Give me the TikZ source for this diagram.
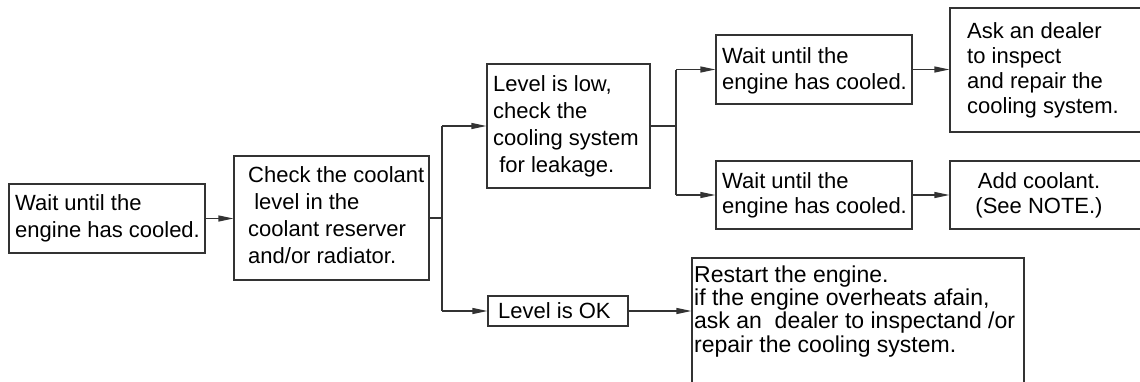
\documentclass[tikz,border=0pt]{standalone}
\usepackage{fontspec}
\setmainfont{Liberation Sans}
\usetikzlibrary{arrows.meta}
\definecolor{linegray}{HTML}{333333}
\tikzset{
  box/.style={draw=linegray, line width=1.2pt, rectangle, inner sep=0pt},
  txt/.style={inner sep=0pt, align=left, anchor=base west, text=black, font=\fontsize{22}{#1}\selectfont},
  txt/.default=26.7,
  wire/.style={draw=linegray, line width=1.2pt},
  conn/.style={wire, -{Triangle[length=15pt,width=6pt]}}
}
\begin{document}
\begin{tikzpicture}[x=1pt,y=-1pt]
\useasboundingbox (0,0) rectangle (1140,381);
\clip (0,0) rectangle (1140,381);
\fill[white] (0,0) rectangle (1140,381);
% boxes
\node[box, minimum width=196pt, minimum height=69pt] (A) at (107,218.5) {};
\node[box, minimum width=195pt, minimum height=124pt] (B) at (331.5,218) {};
\node[box, minimum width=163pt, minimum height=124pt] (C) at (568.5,126) {};
\node[box, minimum width=196pt, minimum height=69pt] (D1) at (814,69.5) {};
\node[box, minimum width=196pt, minimum height=68pt] (D2) at (814,195) {};
\node[box, minimum width=210pt, minimum height=124pt] (E1) at (1055,70) {};
\node[box, minimum width=210pt, minimum height=68pt] (E2) at (1055,195) {};
\node[box, minimum width=140pt, minimum height=30pt] (OK) at (558,311) {};
\node[box, minimum width=332pt, minimum height=142pt] (F) at (858,329) {};
% texts (anchored at the baseline of their last line)
\node[txt=27] (tA) at (15,237) {Wait until the\\engine has cooled.};
\node[txt=26.7] (tB) at (248,263) {Check the coolant\\\ level in the\\coolant reserver\\and/or radiator.};
\node[txt=26.7] (tC) at (493,172) {Level is low,\\check the\\cooling system\\\ for leakage.};
\node[txt=26] (tD1) at (722,89) {Wait until the\\engine has cooled.};
\node[txt=25] (tD2) at (722,213) {Wait until the\\engine has cooled.};
\node[txt=25] (tE1) at (967,113) {Ask an dealer\\to inspect\\and repair the\\cooling system.};
\node[txt=25, align=center, anchor=base] (tE2) at (1039,213) {Add coolant.\\(See NOTE.)};
\node[txt=25] (tOK) at (498,318) {Level is OK};
\node[inner sep=0pt, align=left, anchor=base west, font=\fontsize{23}{23.3}\selectfont] (tF) at (694,352) {Restart the engine.\\if the engine overheats afain,\\ask an\ \ dealer to inspectand /or\\repair the cooling system.};
% connectors
\coordinate (j1) at (442,218);
\coordinate (j2) at (676,126);
\draw[conn] (A.east) -- (A.east -| B.west);
\draw[wire] (B.east) -- (j1);
\draw[wire] (C.west -| j1) -- (OK.west -| j1);
\draw[conn] (C.west -| j1) -- (C.west);
\draw[conn] (OK.west -| j1) -- (OK.west);
\draw[wire] (C.east) -- (j2);
\draw[wire] (D1.west -| j2) -- (D2.west -| j2);
\draw[conn] (D1.west -| j2) -- (D1.west);
\draw[conn] (D2.west -| j2) -- (D2.west);
\draw[conn] (D1.east) -- (D1.east -| E1.west);
\draw[conn] (D2.east) -- (D2.east -| E2.west);
\draw[conn] (OK.east) -- (OK.east -| F.west);
\end{tikzpicture}
\end{document}
